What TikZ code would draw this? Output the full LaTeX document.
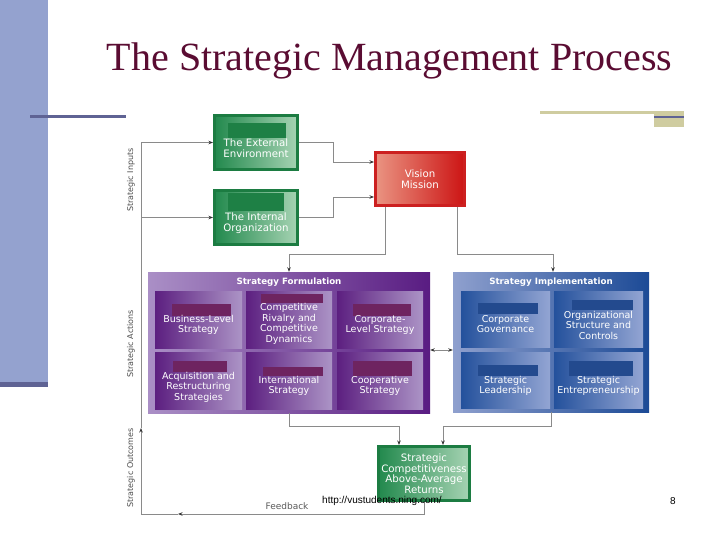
\documentclass[tikz,border=0pt]{standalone}
\usepackage{fontspec}
\setmainfont{Liberation Serif}
\newfontfamily\boxfont{DejaVu Sans}
\newfontfamily\urlfont{Liberation Sans}
\usepackage{tikz}
\usetikzlibrary{calc,arrows.meta}

\definecolor{barblue}{HTML}{94A2CF}
\definecolor{slate}{HTML}{5F6394}
\definecolor{tanline}{HTML}{CFCCA0}
\definecolor{titlered}{HTML}{5A0C32}
\definecolor{grnframe}{HTML}{1C7C42}
\definecolor{grnL}{HTML}{22894D}
\definecolor{grnR}{HTML}{A6D3B3}
\definecolor{grnbar}{HTML}{1E8045}
\definecolor{redframe}{HTML}{CC2020}
\definecolor{redL}{HTML}{EA9482}
\definecolor{redR}{HTML}{CC1414}
\definecolor{purL}{HTML}{AA8FC6}
\definecolor{purR}{HTML}{591C82}
\definecolor{pcellL}{HTML}{5C1F80}
\definecolor{pcellR}{HTML}{AC94C6}
\definecolor{purbar}{HTML}{6E2460}
\definecolor{bluL}{HTML}{8FA0CE}
\definecolor{bluR}{HTML}{1C4A96}
\definecolor{bcellL}{HTML}{24519C}
\definecolor{bcellR}{HTML}{93A5D3}
\definecolor{blubar}{HTML}{234A8E}
\definecolor{conngray}{HTML}{8A8A8A}

\tikzset{
  gbox/.style={draw=grnframe, line width=3pt, left color=grnL, right color=grnR,
    minimum width=83pt, minimum height=54pt, inner sep=0pt},
  rbox/.style={draw=redframe, line width=3pt, left color=redL, right color=redR,
    minimum width=89pt, minimum height=53pt, inner sep=0pt},
  fbig/.style={left color=purL, right color=purR, inner sep=0pt},
  fcell/.style={left color=pcellL, right color=pcellR, minimum height=57pt, inner sep=0pt},
  ibig/.style={left color=bluL, right color=bluR, inner sep=0pt},
  icell/.style={left color=bcellL, right color=bcellR, minimum width=89pt, minimum height=56pt, inner sep=0pt},
  btxt/.style={text=white, align=center, inner sep=0pt,
    font=\boxfont\fontsize{9.5}{10.5}\selectfont},
  bigtxt/.style={btxt, font=\boxfont\fontsize{10.2}{10.5}\selectfont},
  hdr/.style={text=white, inner sep=0pt, font=\boxfont\bfseries\fontsize{8.7}{10}\selectfont},
  sidelab/.style={rotate=90, text=black!70, inner sep=0pt, font=\boxfont\fontsize{8}{9}\selectfont},
  fblab/.style={text=black!65, inner sep=0pt, font=\boxfont\fontsize{9}{10}\selectfont},
  conn/.style={draw=conngray, line width=0.9pt},
  arrw/.style={conn, -{Stealth[length=4.5pt,width=3.5pt,color=black!80]}},
  twoarrw/.style={conn, {Stealth[length=4.5pt,width=3.5pt,color=black!80]}-{Stealth[length=4.5pt,width=3.5pt,color=black!80]}}
}

\begin{document}
\begin{tikzpicture}[x=1pt,y=-1pt]
  %%%%% START %%%%%
  \useasboundingbox (0,0) rectangle (720,540);

  % slide decoration
  \fill[barblue] (0,0) rectangle (48,382);
  \fill[slate] (0,382) rectangle (48,387);
  \fill[slate] (30,115.5) rectangle (126,118.5);
  \fill[tanline] (540,111) rectangle (684,114);
  \fill[tanline] (654,111) rectangle (684,127);
  \fill[slate] (654,116) rectangle (684,118.5);

  \node[text=titlered, font=\fontsize{40}{44}\selectfont, anchor=base] (ttl) at (389.5,71) {The Strategic Management Process};

  % inputs
  \node[gbox] (ext) at (256,142.5) {};
  \fill[grnbar] (228,123) rectangle (286,138);
  \node[bigtxt] (t-ext) at ($(ext.center)+(0,5.5)$) {The External\\Environment};

  \node[gbox] (int) at (256,217.5) {};
  \fill[grnbar] (228,193) rectangle (284,211);
  \node[bigtxt] (t-int) at ($(int.center)+(0,5.5)$) {The Internal\\Organization};

  \node[rbox] (vis) at (420,179) {};
  \node[bigtxt] (t-vis) at (vis.center) {Vision\\Mission};

  % strategy formulation
  \node[fbig, minimum width=282pt, minimum height=141pt] (form) at (289,342.5) {};
  \node[hdr] (h-form) at (289,282) {Strategy Formulation};
  \node[fcell, minimum width=87pt] (bls) at (198.5,319.5) {};
  \node[fcell, minimum width=86pt] (crd) at (289,319.5) {};
  \node[fcell, minimum width=86pt] (cls) at (380,319.5) {};
  \node[fcell, minimum width=87pt] (ars) at (198.5,380.5) {};
  \node[fcell, minimum width=86pt] (ins) at (289,380.5) {};
  \node[fcell, minimum width=86pt] (cos) at (380,380.5) {};
  \fill[purbar] (172,304) rectangle (231,316);
  \fill[purbar] (261,294) rectangle (323,303);
  \fill[purbar] (353,304) rectangle (411,316);
  \fill[purbar] (173,361) rectangle (227,372);
  \fill[purbar] (263,367) rectangle (323,376);
  \fill[purbar] (353,361) rectangle (412,376);
  \node[btxt] (t-bls) at (198.5,325) {Business-Level\\Strategy};
  \node[btxt] (t-crd) at (289,324) {Competitive\\Rivalry and\\Competitive\\Dynamics};
  \node[btxt] (t-cls) at (380,325) {Corporate-\\Level Strategy};
  \node[btxt] (t-ars) at (198.5,387) {Acquisition and\\Restructuring\\Strategies};
  \node[btxt] (t-ins) at (289,386) {International\\Strategy};
  \node[btxt] (t-cos) at (380,386) {Cooperative\\Strategy};

  % strategy implementation
  \node[ibig, minimum width=196pt, minimum height=140pt] (impl) at (551,342) {};
  \node[hdr] (h-impl) at (551,282) {Strategy Implementation};
  \node[icell] (cgv) at (505.5,319.5) {};
  \node[icell] (osc) at (598.5,319.5) {};
  \node[icell] (sld) at (505.5,380.5) {};
  \node[icell] (sen) at (598.5,380.5) {};
  \fill[blubar] (478,303) rectangle (538,314);
  \fill[blubar] (572,300) rectangle (633,310);
  \fill[blubar] (478,365) rectangle (538,376);
  \fill[blubar] (569,361) rectangle (633,376);
  \node[btxt] (t-cgv) at (505.5,324) {Corporate\\Governance};
  \node[btxt] (t-osc) at (598.5,325) {Organizational\\Structure and\\Controls};
  \node[btxt] (t-sld) at (505.5,386) {Strategic\\Leadership};
  \node[btxt] (t-sen) at (598.5,386) {Strategic\\Entrepreneurship};

  % outcomes
  \node[gbox, minimum width=91pt] (outc) at (424,473.5) {};
  \node[bigtxt] (t-outc) at (outc.center) {Strategic\\Competitiveness\\Above-Average\\Returns};

  % side labels
  \node[sidelab] (l-in) at (131,180) {Strategic Inputs};
  \node[sidelab] (l-act) at (131,344) {Strategic Actions};
  \node[sidelab] (l-out) at (131,468) {Strategic Outcomes};

  % connectors
  \coordinate (inp) at (141,142.5);
  \coordinate (fup) at (141,428);
  \coordinate (fbk) at (178,514);
  \draw[arrw] (inp) -- (ext.west);
  \draw[arrw] (inp |- int.west) -- (int.west);
  \draw[conn] (fup) -- (inp);

  \coordinate (vin1) at ($(vis.west)+(0,-17)$);
  \coordinate (vin2) at ($(vis.west)+(0,18)$);
  \draw[arrw] (ext.east) -- ++(34,0) |- (vin1);
  \draw[arrw] (int.east) -- ++(34,0) |- (vin2);

  \draw[arrw] ($(vis.south)+(-35,0)$) -- ++(0,47) -| (form.north);
  \draw[arrw] ($(vis.south)+(37,0)$) -- ++(0,47) -| ($(impl.north)+(2,0)$);

  \draw[twoarrw] ($(form.east)+(0,7.5)$) -- ($(impl.west)+(0,8)$);

  \draw[arrw] (form.south) -- ++(0,13) -| ($(outc.north)+(-25,0)$);
  \draw[arrw] (impl.south) -- ++(0,14) -| ($(outc.north)+(19,0)$);

  \draw[arrw] (outc.south) |- (fbk);
  \draw[arrw] (fbk) -| (fup);
  \node[fblab] (l-fb) at (287,506) {Feedback};

  % footer
  \node[font=\urlfont\fontsize{10}{12}\selectfont, inner sep=0pt] (url) at (382,501) {http://vustudents.ning.com/};
  \node[font=\urlfont\fontsize{10}{12}\selectfont, inner sep=0pt] (pg) at (673,501) {8};
  %%%%% END %%%%%
\end{tikzpicture}
\end{document}
